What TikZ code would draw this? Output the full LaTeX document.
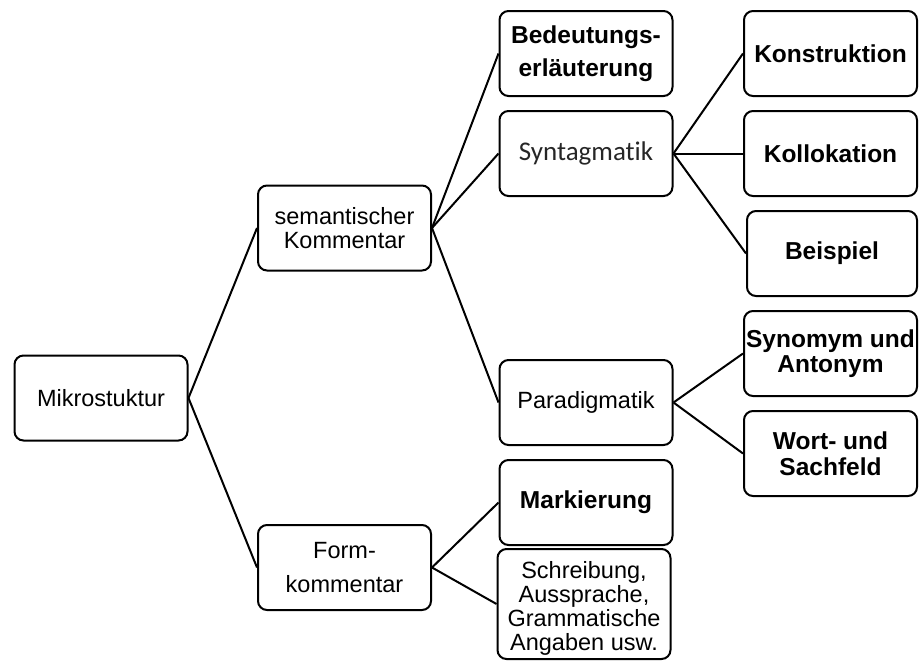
\documentclass[tikz,border=0pt]{standalone}
\usepackage{fontspec}
\setmainfont{Liberation Sans}
\newfontfamily\calib[Ligatures=NoCommon]{Carlito}
\begin{document}
\begin{tikzpicture}[x=1pt,y=-1pt,
  box/.style={draw, line width=2pt, rounded corners=9pt, minimum width=173pt, minimum height=85pt,
    inner sep=0pt, align=center, font=\fontsize{23.5}{24.5}\selectfont},
  boldbox/.style={box, font=\fontsize{24.5}{25.5}\selectfont\bfseries},
  link/.style={line width=2pt}]
\useasboundingbox (0,0) rectangle (919,662);
\node[box] (mik) at (101,398) {Mikrostuktur};
\node[box] (sem) at (344.5,228) {semantischer\\Kommentar};
\node[box, font=\fontsize{23.5}{34}\selectfont] (form) at (344.5,567.5) {Form-\\kommentar};
\node[boldbox, font=\fontsize{24.5}{33}\selectfont\bfseries] (bed) at (586,53.5) {Bedeutungs-\\erläuterung};
\node[box, font=\fontsize{27}{28}\calib, text=black!85] (syn) at (586,153.5) {Syntagmatik};
\node[box] (para) at (586,402.5) {Paradigmatik};
\node[boldbox] (mark) at (586,502.5) {Markierung};
\node[box, minimum height=110pt, font=\fontsize{23.5}{24}\selectfont] (schr) at (584,604) {\rule{0pt}{26pt}Schreibung,\\Aussprache,\\Grammatische\\Angaben usw.};
\node[boldbox] (kon) at (830.5,53.5) {Konstruktion};
\node[boldbox] (kol) at (830.5,153.5) {Kollokation};
\node[boldbox, minimum width=170pt] (bei) at (832,253.5) {Beispiel};
\node[boldbox] (synant) at (830.5,353.5) {Synomym und\\Antonym};
\node[boldbox] (wort) at (830.5,453.5) {Wort- und\\Sachfeld};
\draw[link] (mik.east) -- (sem.west);
\draw[link] (mik.east) -- (form.west);
\draw[link] (sem.east) -- (bed.west);
\draw[link] (sem.east) -- (syn.west);
\draw[link] (sem.east) -- (para.west);
\draw[link] (form.east) -- (mark.west);
\draw[link] (form.east) -- (schr.west);
\draw[link] (syn.east) -- (kon.west);
\draw[link] (syn.east) -- (kol.west);
\draw[link] (syn.east) -- (bei.west);
\draw[link] (para.east) -- (synant.west);
\draw[link] (para.east) -- (wort.west);
\end{tikzpicture}
\end{document}
